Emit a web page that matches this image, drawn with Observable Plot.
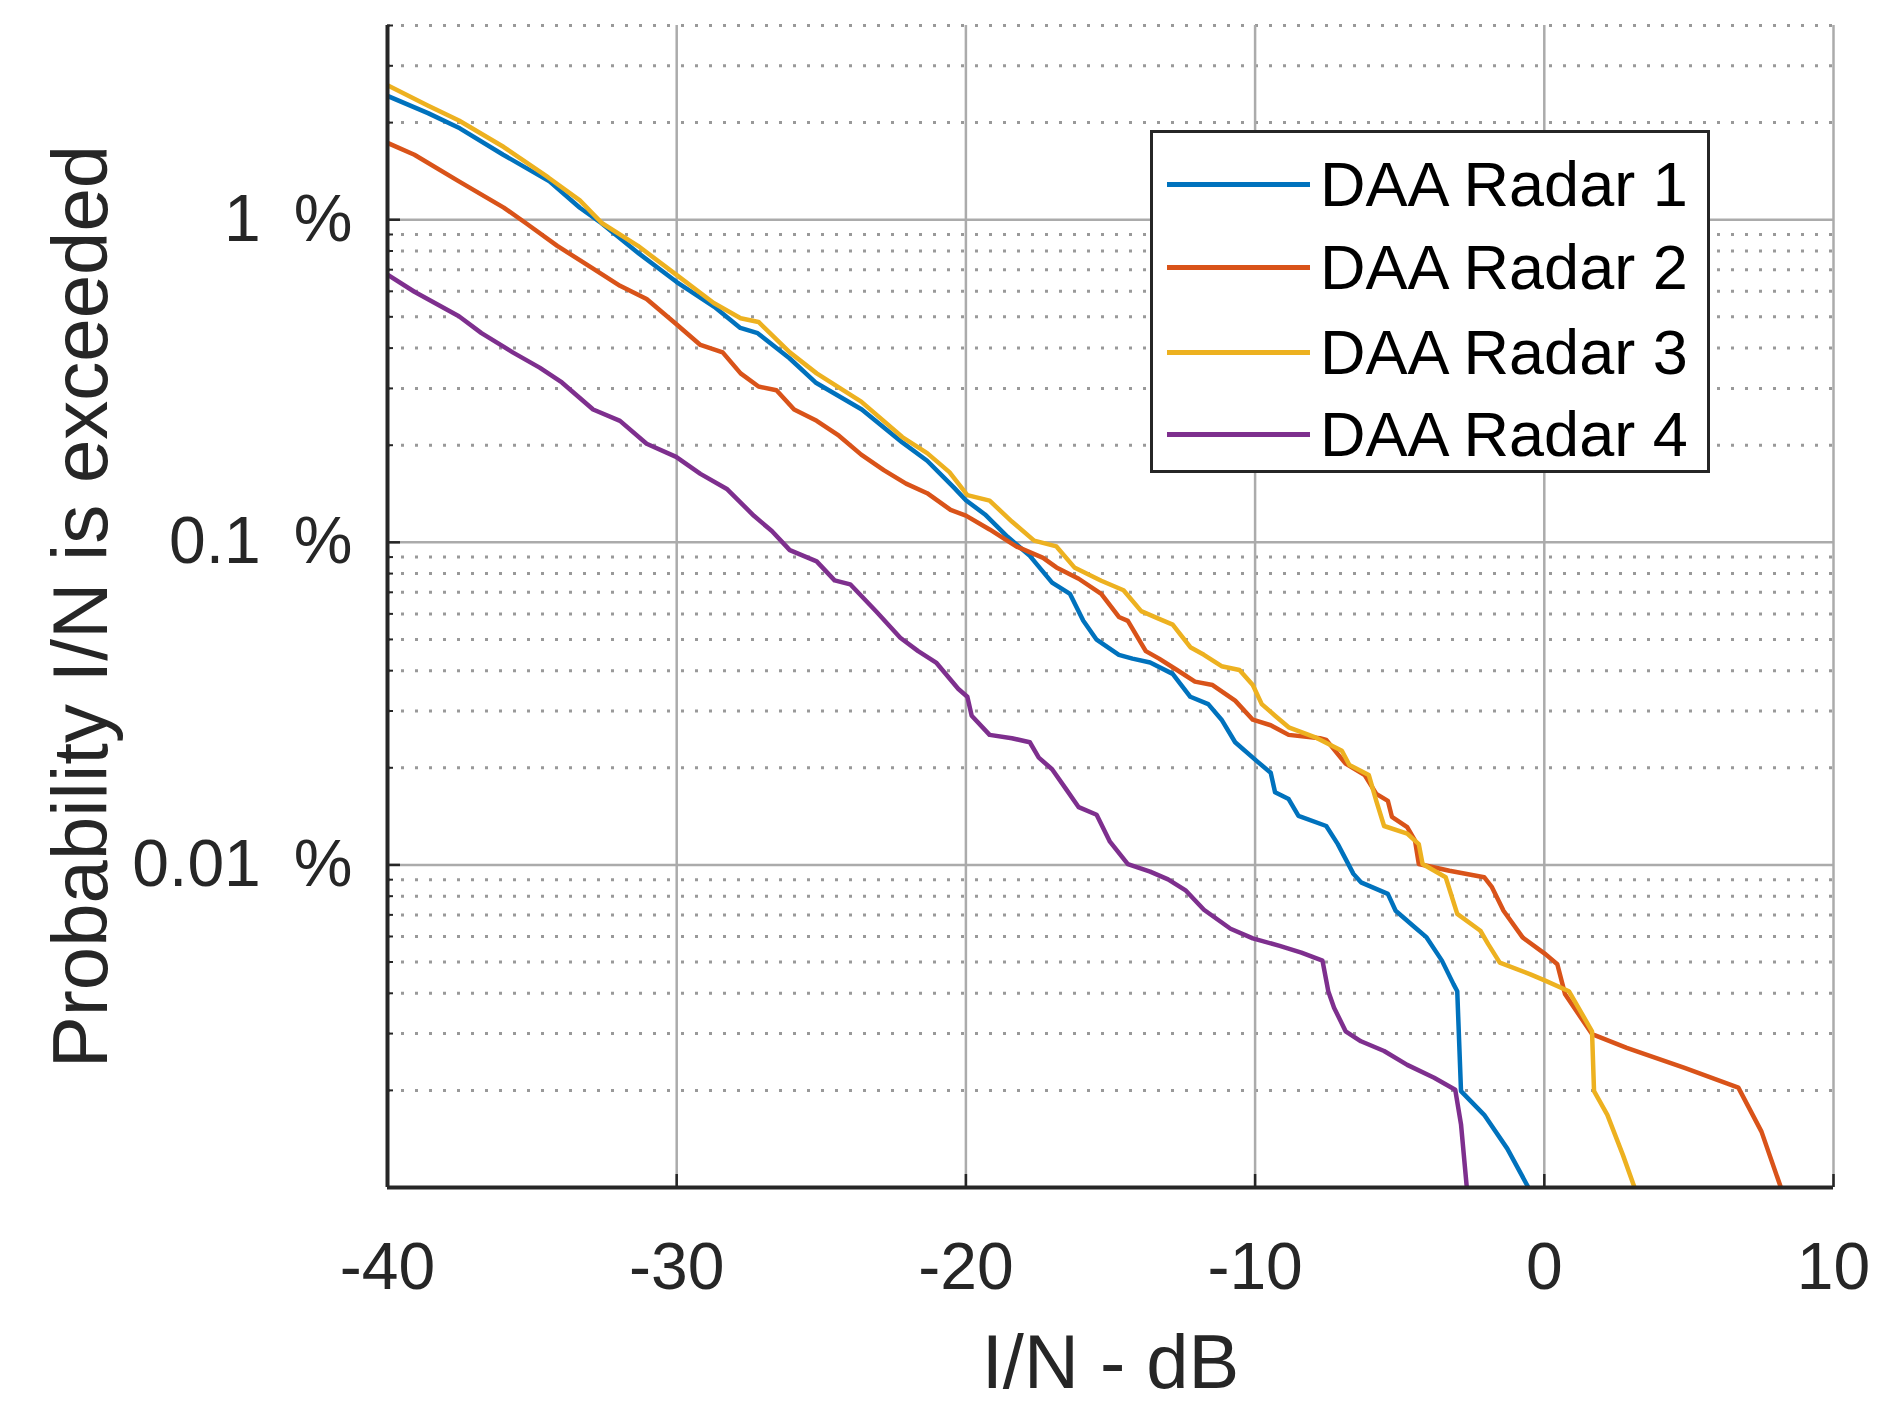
<!DOCTYPE html>
<html>
<head>
<meta charset="utf-8">
<script src="https://cdn.jsdelivr.net/npm/d3@7"></script>
<script src="https://cdn.jsdelivr.net/npm/@observablehq/plot@0.6"></script>
<style>
  body { margin: 0; background: #fff; }
  #wrap { position: relative; width: 1902px; height: 1404px; font-family: "Liberation Sans", Arial, sans-serif; }
  #wrap svg { position: absolute; left: 0; top: 0; }
  #legend { position: absolute; left: 1150px; top: 130px; width: 554px; height: 337px; border: 3px solid #262626; background: #fff; }
  .row { position: absolute; left: 0; height: 0; width: 100%; }
  .sw { position: absolute; left: 14px; width: 143px; height: 5px; top: -2px; }
  .lb { position: absolute; left: 167px; top: 0; font-size: 63px; line-height: 1; transform: translateY(-50%); white-space: nowrap; color: #000; }
</style>
</head>
<body>
<div id="wrap"><div id="legend"></div></div>
<script>
// ---------- data (I/N in dB, probability in %) ----------
const seriesNames = ["DAA Radar 1", "DAA Radar 2", "DAA Radar 3", "DAA Radar 4"];
const seriesColors = ["#0072BD", "#D95319", "#EDB120", "#7E2F8E"];

const radar1 = [[-40,2.42],[-38.6,2.14],[-37.5,1.92],[-36,1.59],[-34.4,1.315],[-33.35,1.089],[-32.6,0.975],[-31.3,0.785],[-30,0.641],[-28.7,0.537],[-27.8,0.462],[-27.2,0.445],[-26.1,0.372],[-25.2,0.313],[-23.6,0.258],[-22.2,0.204],[-21.34,0.179],[-20.42,0.148],[-20,0.135],[-19.34,0.122],[-18.56,0.104],[-17.79,0.0908],[-17.02,0.075],[-16.4,0.0692],[-15.94,0.0571],[-15.48,0.0499],[-14.71,0.0448],[-14.24,0.0436],[-13.63,0.0424],[-12.85,0.0391],[-12.24,0.0332],[-11.62,0.0315],[-11.16,0.0282],[-10.69,0.024],[-9.92,0.0209],[-9.46,0.0193],[-9.31,0.0168],[-8.84,0.016],[-8.5,0.0142],[-7.54,0.0132],[-7.14,0.0116],[-6.6,0.00938],[-6.34,0.00883],[-5.41,0.00813],[-5.14,0.00721],[-4.47,0.0064],[-4.07,0.00596],[-3.54,0.00505],[-3.14,0.00427],[-3.01,0.00406],[-2.88,0.00199],[-2.08,0.00168],[-1.28,0.00132],[-0.55,0.001]];

const radar2 = [[-40,1.73],[-39.07,1.59],[-37.53,1.315],[-35.98,1.09],[-35.21,0.975],[-34.13,0.83],[-32.89,0.705],[-31.96,0.624],[-31.04,0.568],[-30.02,0.475],[-29.18,0.409],[-28.41,0.388],[-27.79,0.334],[-27.17,0.304],[-26.55,0.296],[-25.94,0.258],[-25.16,0.238],[-24.39,0.214],[-23.62,0.187],[-22.84,0.1675],[-22.07,0.152],[-21.34,0.142],[-20.53,0.126],[-20,0.121],[-19.18,0.1096],[-18.26,0.0971],[-17.33,0.0895],[-16.87,0.0836],[-16.1,0.0771],[-15.32,0.0692],[-14.71,0.0587],[-14.4,0.0571],[-13.78,0.046],[-13.32,0.0436],[-12.7,0.0402],[-12.08,0.037],[-11.47,0.0361],[-10.69,0.0323],[-10.08,0.0282],[-9.46,0.0271],[-8.84,0.0253],[-7.76,0.0247],[-7.54,0.0244],[-6.87,0.0206],[-6.21,0.019],[-5.81,0.0166],[-5.41,0.0158],[-5.27,0.0141],[-4.74,0.0131],[-4.47,0.0119],[-4.34,0.01007],[-3.28,0.00959],[-2.08,0.00916],[-1.81,0.00853],[-1.41,0.00721],[-0.75,0.00596],[0.05,0.00528],[0.45,0.00492],[0.72,0.00397],[1.65,0.00299],[2.85,0.00271],[4.85,0.00235],[6.71,0.00204],[7.51,0.00149],[8.18,0.001]];

const radar3 = [[-40,2.61],[-38.61,2.26],[-37.53,2.03],[-35.98,1.68],[-34.44,1.352],[-33.35,1.148],[-32.58,0.975],[-31.34,0.83],[-30.02,0.676],[-28.72,0.552],[-27.79,0.495],[-27.17,0.482],[-26.09,0.388],[-25.16,0.334],[-23.62,0.273],[-22.2,0.212],[-21.34,0.189],[-20.57,0.165],[-19.95,0.14],[-19.18,0.1346],[-18.41,0.116],[-17.64,0.1012],[-16.87,0.0971],[-16.25,0.0836],[-15.32,0.076],[-14.55,0.071],[-13.94,0.0612],[-13.32,0.0579],[-12.85,0.0556],[-12.24,0.0473],[-11.77,0.0448],[-11.16,0.0413],[-10.54,0.0402],[-10.08,0.0361],[-9.77,0.0315],[-9.31,0.029],[-8.84,0.0267],[-8.4,0.0258],[-7.94,0.0249],[-7,0.0226],[-6.74,0.0204],[-6.07,0.019],[-5.81,0.0158],[-5.54,0.0132],[-4.74,0.0125],[-4.34,0.0116],[-4.21,0.01007],[-3.41,0.00916],[-3.01,0.00705],[-2.21,0.00625],[-1.94,0.00568],[-1.54,0.00498],[-0.48,0.00458],[0.05,0.00437],[0.85,0.00406],[1.65,0.00305],[1.72,0.00199],[2.18,0.00168],[2.72,0.00126],[3.12,0.001]];

const radar4 = [[-40,0.676],[-39.07,0.598],[-37.53,0.502],[-36.75,0.445],[-35.67,0.388],[-34.74,0.348],[-33.97,0.313],[-32.89,0.258],[-31.96,0.238],[-31.04,0.202],[-30.02,0.184],[-29.18,0.163],[-28.25,0.146],[-27.33,0.1208],[-26.71,0.1084],[-26.09,0.0946],[-25.16,0.0873],[-24.54,0.0762],[-24,0.0741],[-23.1,0.061],[-22.27,0.0506],[-21.65,0.046],[-21.03,0.0424],[-20.26,0.0351],[-19.95,0.0332],[-19.8,0.029],[-19.18,0.0253],[-18.41,0.0247],[-17.79,0.024],[-17.48,0.0215],[-17.02,0.0198],[-16.56,0.0173],[-16.1,0.0151],[-15.48,0.0143],[-15.02,0.0118],[-14.4,0.01005],[-13.63,0.00953],[-13.01,0.00902],[-12.39,0.00832],[-11.77,0.00726],[-10.85,0.00634],[-10.08,0.00592],[-9.15,0.00561],[-8.4,0.00535],[-7.67,0.00505],[-7.47,0.00406],[-7.27,0.00361],[-6.87,0.00305],[-6.34,0.00284],[-5.54,0.00265],[-4.74,0.0024],[-3.81,0.00219],[-3.08,0.00201],[-2.88,0.00157],[-2.68,0.001]];

const xTicks = [-40, -30, -20, -10, 0, 10];
const xTickLabels = ["-40", "-30", "-20", "-10", "0", "10"];
const yMajor = [0.001, 0.01, 0.1, 1];
const yMinor = [0.002,0.003,0.004,0.005,0.006,0.007,0.008,0.009,0.02,0.03,0.04,0.05,0.06,0.07,0.08,0.09,0.2,0.3,0.4,0.5,0.6,0.7,0.8,0.9,2,3,4];
const yLabelTicks = [0.01, 0.1, 1];
const yTickLabels = ["0.01\u2002%", "0.1\u2002%", "1\u2002%"];
const xTitle = "I/N - dB";
const yTitle = "Probability I/N is exceeded";

// ---------- build ----------
const allSeries = [radar1, radar2, radar3, radar4];
const rows = allSeries.flatMap((pts, i) => pts.map(([x, p]) => ({x, p, name: seriesNames[i]})));

const W = 1902, H = 1404;
const mL = 387, mR = 69, mT = 25, mB = 217;
const fw = W - mL - mR, fh = H - mT - mB;
const ink = "#262626";

const plot = Plot.plot({
  width: W, height: H,
  marginLeft: mL, marginRight: mR, marginTop: mT, marginBottom: mB,
  style: {fontFamily: '"Liberation Sans", Arial, sans-serif', background: "white", overflow: "visible"},
  x: {domain: [-40, 10], axis: null},
  y: {type: "log", domain: [0.001, 4], axis: null},
  color: {domain: seriesNames, range: seriesColors},
  marks: [
    Plot.ruleY(yMinor, {y: d => d, stroke: "#999999", strokeWidth: 3, strokeDasharray: "3,11"}),
    Plot.ruleY(yMajor.slice(1), {y: d => d, stroke: "#ababab", strokeWidth: 2.5}),
    Plot.ruleX(xTicks.slice(1), {x: d => d, stroke: "#ababab", strokeWidth: 2.5}),
    Plot.line(rows, {x: "x", y: "p", z: "name", stroke: "name", strokeWidth: 4.5, clip: true}),
    // inward ticks
    Plot.ruleY(yMajor, {y: d => d, stroke: ink, strokeWidth: 2.5, insetRight: fw - 13}),
    Plot.ruleY(yMinor, {y: d => d, stroke: ink, strokeWidth: 2, insetRight: fw - 6}),
    Plot.ruleX(xTicks, {x: d => d, stroke: ink, strokeWidth: 2.5, insetTop: fh - 13}),
    // axis lines
    Plot.ruleX([-40], {x: d => d, stroke: ink, strokeWidth: 4}),
    Plot.ruleY([0.001], {y: d => d, stroke: ink, strokeWidth: 4}),
    // tick labels
    Plot.text(xTicks, {x: d => d, frameAnchor: "bottom", dy: 80, text: (d, i) => xTickLabels[i], fontSize: 66, fill: ink, lineAnchor: "middle"}),
    Plot.text(yLabelTicks, {y: d => d, frameAnchor: "left", dx: -35, textAnchor: "end", text: (d, i) => yTickLabels[i], fontSize: 66, fill: ink, lineAnchor: "middle"}),
    // titles
    Plot.text([xTitle], {frameAnchor: "bottom", dy: 176, text: d => d, fontSize: 76, fill: ink, textAnchor: "middle", lineAnchor: "middle"}),
    Plot.text([yTitle], {frameAnchor: "left", dx: -305, rotate: -90, text: d => d, fontSize: 78, fill: ink, textAnchor: "middle", lineAnchor: "middle"})
  ]
});
document.getElementById("wrap").prepend(plot);

// legend
const legend = document.getElementById("legend");
const rowTops = [51, 134, 219, 301];
seriesNames.forEach((n, i) => {
  const r = document.createElement("div");
  r.className = "row";
  r.style.top = rowTops[i] + "px";
  r.innerHTML = `<div class="sw" style="background:${seriesColors[i]}"></div><div class="lb">${n}</div>`;
  legend.appendChild(r);
});
</script>
</body>
</html>
